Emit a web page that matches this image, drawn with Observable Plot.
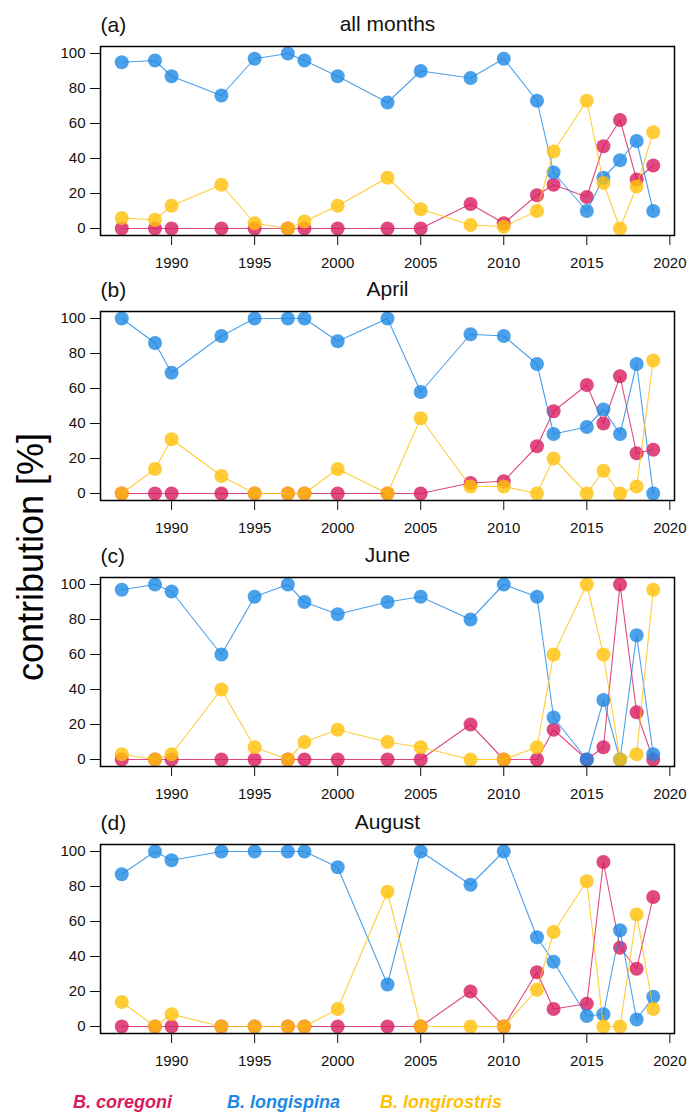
<!DOCTYPE html>
<html><head><meta charset="utf-8">
<script src="https://cdn.jsdelivr.net/npm/d3@7"></script>
<script src="https://cdn.jsdelivr.net/npm/@observablehq/plot@0.6"></script>
<style>
body{margin:0;background:#fff;font-family:"Liberation Sans",Arial,sans-serif;}
#wrap{position:relative;width:689px;height:1114px;overflow:hidden;background:#fff;}
.panel{position:absolute;left:0;}
.ylab{position:absolute;left:31px;top:557px;transform:translate(-50%,-50%) rotate(-90deg);font-size:36px;white-space:nowrap;color:#000;}
.leg{position:absolute;top:1090px;font-size:18px;font-weight:bold;font-style:italic;white-space:nowrap;line-height:24px;}
</style></head><body><div id="wrap"></div>
<script>
// ---- data ----
const years = [1987,1989,1990,1993,1995,1997,1998,2000,2003,2005,2008,2010,2012,2013,2015,2016,2017,2018,2019];
const yTicks = [0,20,40,60,80,100];
const xTicks = [1990,1995,2000,2005,2010,2015,2020];
const speciesNames = ["B. coregoni","B. longispina","B. longirostris"];
const panelLabels = ["(a)","(b)","(c)","(d)"];
const panelTitles = ["all months","April","June","August"];

const allCoregoni     = [0,0,0,0,0,0,0,0,0,0,14,3,19,25,18,47,62,28,36];
const allLongispina   = [95,96,87,76,97,100,96,87,72,90,86,97,73,32,10,29,39,50,10];
const allLongirostris = [6,5,13,25,3,0,4,13,29,11,2,1,10,44,73,26,0,24,55];

const aprCoregoni     = [0,0,0,0,0,0,0,0,0,0,6,7,27,47,62,40,67,23,25];
const aprLongispina   = [100,86,69,90,100,100,100,87,100,58,91,90,74,34,38,48,34,74,0];
const aprLongirostris = [0,14,31,10,0,0,0,14,0,43,4,4,0,20,0,13,0,4,76];

const junCoregoni     = [0,0,0,0,0,0,0,0,0,0,20,0,0,17,0,7,100,27,0];
const junLongispina   = [97,100,96,60,93,100,90,83,90,93,80,100,93,24,0,34,0,71,3];
const junLongirostris = [3,0,3,40,7,0,10,17,10,7,0,0,7,60,100,60,0,3,97];

const augCoregoni     = [0,0,0,0,0,0,0,0,0,0,20,0,31,10,13,94,45,33,74];
const augLongispina   = [87,100,95,100,100,100,100,91,24,100,81,100,51,37,6,7,55,4,17];
const augLongirostris = [14,0,7,0,0,0,0,10,77,0,0,0,21,54,83,0,0,64,10];

const colors = ["#D81B60","#1E88E5","#FFC107"];

const panelData = [
  [allCoregoni, allLongispina, allLongirostris],
  [aprCoregoni, aprLongispina, aprLongirostris],
  [junCoregoni, junLongispina, junLongirostris],
  [augCoregoni, augLongispina, augLongirostris]
];
const panelTops = [0, 265, 531, 798];

const wrap = document.getElementById("wrap");
const font = '"Liberation Sans", Arial, sans-serif';

panelData.forEach((series, pi) => {
  const marks = [];
  series.forEach((vals, si) => {
    const rows = years.map((year, i) => ({year, value: vals[i]}));
    marks.push(Plot.line(rows, {x: "year", y: "value", stroke: colors[si], strokeWidth: 1.1, strokeOpacity: 0.8}));
    marks.push(Plot.dot(rows, {x: "year", y: "value", r: 7, fill: colors[si], fillOpacity: 0.8, stroke: "none"}));
  });
  marks.push(Plot.frame({stroke: "#000", strokeWidth: 1.5}));
  marks.push(Plot.axisY(yTicks, {tickSize: 10, tickPadding: 5, fontSize: 15, label: null, tickFormat: d => String(d)}));
  marks.push(Plot.axisX(xTicks, {tickSize: 10, tickPadding: 12, fontSize: 15, label: null, tickFormat: d => String(d)}));
  marks.push(Plot.text([panelLabels[pi]], {text: d => d, frameAnchor: "top-left", dy: -21, textAnchor: "start", lineAnchor: "middle", fontSize: 21}));
  marks.push(Plot.text([panelTitles[pi]], {text: d => d, frameAnchor: "top", dy: -22, textAnchor: "middle", lineAnchor: "middle", fontSize: 21}));
  const chart = Plot.plot({
    width: 689,
    height: 266,
    marginLeft: 100,
    marginRight: 15,
    marginTop: 46,
    marginBottom: 31,
    x: {domain: [1985.72, 2020.28]},
    y: {domain: [-4, 104]},
    style: {background: "transparent", overflow: "visible", fontFamily: font, color: "#111"},
    marks
  });
  chart.classList.add("panel");
  chart.style.top = panelTops[pi] + "px";
  wrap.appendChild(chart);
});

const yl = document.createElement("div");
yl.className = "ylab";
yl.textContent = "contribution [%]";
wrap.appendChild(yl);

const legLefts = [73, 227, 380];
speciesNames.forEach((name, i) => {
  const s = document.createElement("div");
  s.className = "leg";
  s.style.left = legLefts[i] + "px";
  s.style.color = colors[i];
  s.textContent = name;
  wrap.appendChild(s);
});
</script></body></html>
